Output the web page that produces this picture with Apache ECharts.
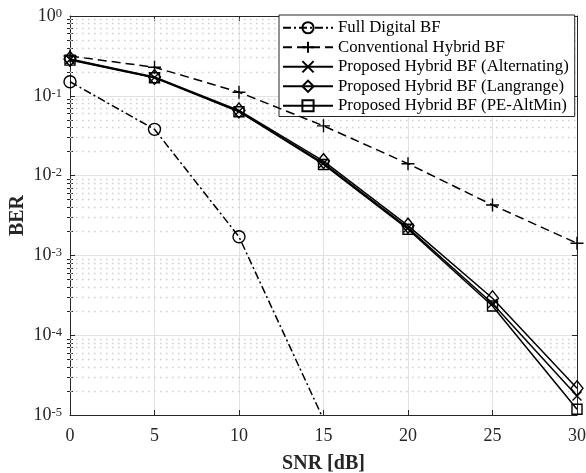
<!DOCTYPE html>
<html>
<head>
<meta charset="utf-8">
<script src="https://cdn.jsdelivr.net/npm/echarts@6/dist/echarts.min.js"></script>
<style>html,body{margin:0;padding:0;background:#fff;}#c{width:586px;height:473px;}</style>
</head>
<body>
<div id="c"></div>
<script>
// ---- data ----
const snr = [0, 5, 10, 15, 20, 25, 30];
const seriesNames = [
  'Full Digital BF',
  'Conventional Hybrid BF',
  'Proposed Hybrid BF (Alternating)',
  'Proposed Hybrid BF (Langrange)',
  'Proposed Hybrid BF (PE-AltMin)'
];
const fullDigital   = [0.150, 0.038, 0.00171, 8.8e-6];
const conventional  = [0.315, 0.228, 0.111, 0.042, 0.0141, 0.00428, 0.00142];
const alternating   = [0.285, 0.170, 0.0640, 0.0143, 0.00221, 2.5e-4, 1.73e-5];
const langrange     = [0.290, 0.172, 0.0655, 0.0152, 0.00236, 2.9e-4, 2.16e-5];
const peAltMin      = [0.280, 0.168, 0.0632, 0.0138, 0.00213, 2.32e-4, 1.18e-5];
const xTicks = [0, 5, 10, 15, 20, 25, 30];
const yDecades = [1e-5, 1e-4, 1e-3, 1e-2, 1e-1, 1];

// minor log ticks (2..9 in each decade) for grid styling
const yMinor = [];
for (let e = -5; e < 0; e++) for (let m = 2; m <= 9; m++) yMinor.push(m * Math.pow(10, e));

const pair = (ys) => ys.map((v, i) => [snr[i], v]);
const FONT = 'Liberation Serif';
const TXT = '#262626';

const chart = echarts.init(document.getElementById('c'), null, {renderer: 'canvas'});

const markerStyle = {color: 'none', borderColor: '#000', borderWidth: 1.4};
function lineSeries(name, data, symbol, size, dash) {
  return {
    name, type: 'line', data: pair(data), xAxisIndex: 0, yAxisIndex: 0,
    symbol, symbolSize: size, showAllSymbol: true, clip: true,
    lineStyle: {color: '#000', width: 1.5, type: dash},
    itemStyle: Object.assign({}, markerStyle),
    emphasis: {disabled: true}, animation: false, z: 5
  };
}
const plusPath = 'path://M0,-10L0,10M-10,0L10,0';
const crossPath = 'path://M-10,-10L10,10M-10,10L10,-10';

const baseY = {
  type: 'log', logBase: 10, min: 1e-5, max: 1
};

const option = {
  backgroundColor: '#fff',
  animation: false,
  grid: {left: 70, right: 9, top: 16, bottom: 58, containLabel: false, outerBoundsMode: 'none'},
  legend: {
    orient: 'vertical', left: 279, top: 15,
    padding: [3, 6, 1, 3],
    itemWidth: 50, itemHeight: 14, itemGap: 0,
    backgroundColor: '#fff', borderColor: TXT, borderWidth: 1,
    textStyle: {fontFamily: FONT, fontSize: 16.8, color: '#000', lineHeight: 19.5},
    data: seriesNames,
    selectedMode: false
  },
  xAxis: [{
    type: 'value', min: 0, max: 30, interval: 5,
    name: 'SNR [dB]', nameLocation: 'middle', nameGap: 39, nameMoveOverlap: false,
    nameTextStyle: {fontFamily: FONT, fontSize: 20, fontWeight: 'bold', color: TXT},
    axisLine: {show: true, onZero: false, lineStyle: {color: TXT, width: 1}},
    axisTick: {show: true, inside: true, length: 5, lineStyle: {color: TXT}},
    axisLabel: {fontFamily: FONT, fontSize: 18, color: TXT, margin: 12},
    splitLine: {show: true, lineStyle: {color: '#e2e2e2', width: 1}}
  }, {
    type: 'value', min: 0, max: 30, interval: 5, position: 'top',
    axisLine: {show: true, onZero: false, lineStyle: {color: TXT, width: 1}},
    axisTick: {show: true, inside: true, length: 5, lineStyle: {color: TXT}},
    axisLabel: {show: false}, splitLine: {show: false}
  }],
  yAxis: [Object.assign({}, baseY, {
    position: 'left',
    name: 'BER', nameLocation: 'middle', nameGap: 42, nameRotate: 90, nameMoveOverlap: false,
    nameTextStyle: {fontFamily: FONT, fontSize: 20, fontWeight: 'bold', color: TXT},
    axisLine: {show: true, onZero: false, lineStyle: {color: TXT, width: 1}},
    axisTick: {show: true, inside: true, length: 5, lineStyle: {color: TXT}},
    axisLabel: {
      margin: 8,
      formatter: (v) => '{b|10}{s|' + Math.round(Math.log10(v)) + '}',
      rich: {
        b: {fontFamily: FONT, fontSize: 18, color: TXT, lineHeight: 18, verticalAlign: 'bottom'},
        s: {fontFamily: FONT, fontSize: 12.5, color: TXT, lineHeight: 12, verticalAlign: 'top', padding: [0, 0, 8, 0]}
      }
    },
    splitLine: {show: true, lineStyle: {color: '#e2e2e2', width: 1}}
  }), Object.assign({}, baseY, {
    position: 'right',
    axisLine: {show: true, onZero: false, lineStyle: {color: TXT, width: 1}},
    axisTick: {show: true, inside: true, length: 5, lineStyle: {color: TXT}},
    axisLabel: {show: false}, splitLine: {show: false}
  }), Object.assign({}, baseY, {
    position: 'left',
    axisLine: {show: false},
    axisTick: {show: true, inside: true, length: 3, customValues: yMinor, lineStyle: {color: TXT}},
    axisLabel: {show: false, customValues: yMinor},
    splitLine: {show: false}
  }), Object.assign({}, baseY, {
    position: 'right',
    axisLine: {show: false},
    axisTick: {show: true, inside: true, length: 3, customValues: yMinor, lineStyle: {color: TXT}},
    axisLabel: {show: false, customValues: yMinor},
    splitLine: {show: false}
  })],
  series: [
    {
      name: '_minorgrid', type: 'lines', coordinateSystem: 'cartesian2d',
      xAxisIndex: 0, yAxisIndex: 0, silent: true, z: 1, animation: false,
      lineStyle: {color: '#cfcfcf', width: 1.3, type: [1.5, 4.5], opacity: 1},
      data: yMinor.map(v => ({coords: [[0, v], [30, v]]}))
    },
    lineSeries(seriesNames[0], fullDigital, 'circle', 12, [8, 3, 2, 3]),
    lineSeries(seriesNames[1], conventional, plusPath, 13, [9, 5]),
    lineSeries(seriesNames[2], alternating, crossPath, 9, 'solid'),
    lineSeries(seriesNames[3], langrange, 'diamond', [12, 15], 'solid'),
    lineSeries(seriesNames[4], peAltMin, 'rect', 10, 'solid')
  ]
};
chart.setOption(option);
</script>
</body>
</html>
